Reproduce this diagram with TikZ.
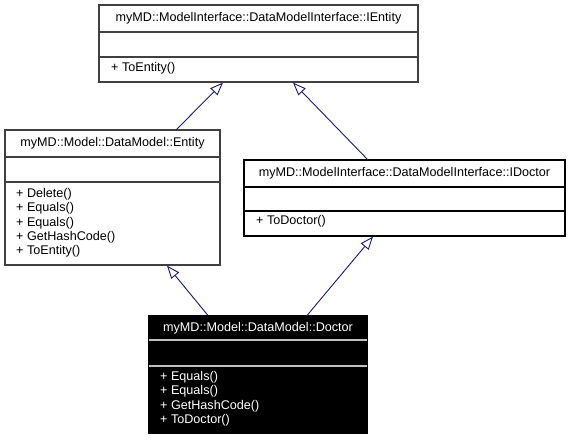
\documentclass[tikz,border=0pt]{standalone}
\usepackage{fontspec}
\setmainfont{Liberation Sans}
\usetikzlibrary{arrows.meta}
\definecolor{edgeblue}{RGB}{25,25,112}
\definecolor{frame}{RGB}{64,64,64}
\begin{document}
\begin{tikzpicture}[x=1pt,y=-1pt,
  classbox/.style={draw=frame,line width=1.1pt,fill=white},
  focusbox/.style={draw=black,line width=1.1pt,fill=black},
  sep/.style={draw=frame,line width=1.1pt},
  focussep/.style={draw=white!75!black,line width=1.1pt},
  title/.style={inner sep=0pt,font=\fontsize{12.6}{14}\selectfont},
  members/.style={inner sep=0pt,anchor=north west,align=left,
    font=\fontsize{12.6}{14.4}\selectfont},
  inherit/.style={draw=edgeblue,line width=0.9pt,
    -{Triangle[open,length=13pt,width=10pt,fill=white]}}]
\useasboundingbox (0,0) rectangle (570,441);

% myMD::ModelInterface::DataModelInterface::IEntity
\draw[classbox] (99,5) rectangle (418,82);
\draw[sep] (99,32) -- (418,32);
\draw[sep] (99,57) -- (418,57);
\node[title] (ient) at (258.5,18.5) {myMD::ModelInterface::DataModelInterface::IEntity};
\node[members] (ientm) at (111,62) {+ ToEntity()};

% myMD::Model::DataModel::Entity
\draw[classbox] (5,130) rectangle (220,265);
\draw[sep] (5,157) -- (220,157);
\draw[sep] (5,182) -- (220,182);
\node[title] (ent) at (112.5,143.5) {myMD::Model::DataModel::Entity};
\node[members] (entm) at (16,188) {+ Delete()\\+ Equals()\\+ Equals()\\+ GetHashCode()\\+ ToEntity()};

% myMD::ModelInterface::DataModelInterface::IDoctor
\draw[classbox,draw=black] (244,160) rectangle (565,236);
\draw[sep,draw=black] (244,187) -- (565,187);
\draw[sep,draw=black] (244,211) -- (565,211);
\node[title] (idoc) at (404.5,173.5) {myMD::ModelInterface::DataModelInterface::IDoctor};
\node[members] (idocm) at (256,215.5) {+ ToDoctor()};

% myMD::Model::DataModel::Doctor (highlighted class)
\draw[focusbox] (149,316) rectangle (367,433);
\draw[focussep] (149,340) -- (367,340);
\draw[focussep] (149,366) -- (367,366);
\node[title,text=white] (doc) at (258,328) {myMD::Model::DataModel::Doctor};
\node[members,text=white] (docm) at (160,371) {+ Equals()\\+ Equals()\\+ GetHashCode()\\+ ToDoctor()};

% attachment points on the class frames
\coordinate (ientL) at (223,82.6);
\coordinate (ientR) at (293,82.6);
\coordinate (entT) at (176,130);
\coordinate (entB) at (167,265.6);
\coordinate (idocT) at (368,160);
\coordinate (idocB) at (373,236.6);
\coordinate (docL) at (208,315.5);
\coordinate (docR) at (307,315.5);

% generalisation edges
\draw[inherit] (entT) -- (ientL);
\draw[inherit] (idocT) -- (ientR);
\draw[inherit] (docL) -- (entB);
\draw[inherit] (docR) -- (idocB);
\end{tikzpicture}
\end{document}
